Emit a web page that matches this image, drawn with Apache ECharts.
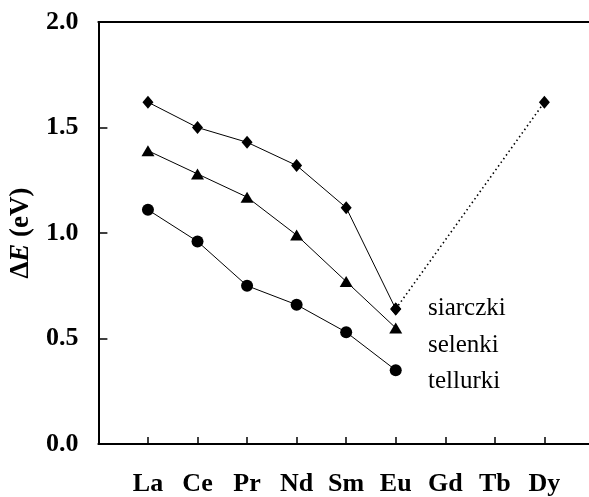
<!DOCTYPE html>
<html><head><meta charset="utf-8">
<script src="https://cdn.jsdelivr.net/npm/echarts@6/dist/echarts.min.js"></script>
<style>html,body{margin:0;padding:0;background:#fff}#c{width:589px;height:497px}</style>
</head><body><div id="c"></div>
<script>
const categories = ['La','Ce','Pr','Nd','Sm','Eu','Gd','Tb','Dy'];
const siarczki = [1.62, 1.50, 1.43, 1.32, 1.12, 0.64];
const selenki  = [1.39, 1.28, 1.17, 0.99, 0.77, 0.55];
const tellurki = [1.11, 0.96, 0.75, 0.66, 0.53, 0.35];
const dyLink = [[5, 0.64], [8, 1.62]];
const yTicks = ['0.0','0.5','1.0','1.5','2.0'];
const seriesNames = ['siarczki','selenki','tellurki'];

const FONT = 'Liberation Serif';
const pairs = arr => arr.map((v,i)=>[i,v]);
const chart = echarts.init(document.getElementById('c'), null, {renderer:'canvas'});
const lineBase = {type:'line', color:'#000', lineStyle:{color:'#000', width:1}, itemStyle:{color:'#000'}, animation:false, z:3};
chart.setOption({
  backgroundColor:'#fff',
  grid:{left:97, right:0, top:22, bottom:51, containLabel:false},
  xAxis:[{
    type:'value', min:-1, max:8.9, interval:1,
    axisLine:{onZero:false, lineStyle:{color:'#000', width:2}},
    axisTick:{inside:true, length:7, lineStyle:{color:'#000', width:1.5}},
    splitLine:{show:false},
    axisLabel:{margin:27, fontFamily:FONT, fontWeight:'bold', fontSize:26, color:'#000',
      showMaxLabel:false,
      formatter:v=> (v>=0 && v<categories.length && Number.isInteger(v)) ? categories[v] : ''}
  },{
    type:'value', position:'top', min:-1, max:8.9,
    axisLine:{show:true, onZero:false, lineStyle:{color:'#000', width:2}},
    axisTick:{show:false}, axisLabel:{show:false}, splitLine:{show:false}
  }],
  yAxis:{
    type:'value', min:0, max:2, interval:0.5,
    axisLine:{show:true, onZero:false, lineStyle:{color:'#000', width:2}},
    axisTick:{show:true, inside:true, length:9, lineStyle:{color:'#000', width:1.5}},
    splitLine:{show:false},
    axisLabel:{margin:20, fontFamily:FONT, fontWeight:'bold', fontSize:26, color:'#000',
      formatter:v=> yTicks[Math.round(v*2)]},
    name:'{a|Δ}{b|E}{a| (eV)}', nameLocation:'middle', nameGap:62, nameRotate:90,
    nameTextStyle:{rich:{
      a:{fontFamily:FONT, fontWeight:'bold', fontSize:27, color:'#000'},
      b:{fontFamily:FONT, fontWeight:'bold', fontStyle:'italic', fontSize:27, color:'#000'}
    }}
  },
  series:[
    Object.assign({}, lineBase, {name:seriesNames[0], data:pairs(siarczki), symbol:'diamond', symbolSize:[11,13], showAllSymbol:true}),
    Object.assign({}, lineBase, {name:seriesNames[1], data:pairs(selenki), symbol:'triangle', symbolSize:[13,11]}),
    Object.assign({}, lineBase, {name:seriesNames[2], data:pairs(tellurki), symbol:'circle', symbolSize:12}),
    Object.assign({}, lineBase, {name:'link', data:dyLink, symbol:'diamond', symbolSize:[11,13], lineStyle:{color:'#000', width:1.6, type:[1.5,3]}, z:2})
  ],
  graphic:[
    {type:'text', left:428, top:296, style:{text:seriesNames[0], font:'25px "Liberation Serif"', fill:'#000'}},
    {type:'text', left:428, top:333, style:{text:seriesNames[1], font:'25px "Liberation Serif"', fill:'#000'}},
    {type:'text', left:428, top:369, style:{text:seriesNames[2], font:'25px "Liberation Serif"', fill:'#000'}}
  ]
});
</script></body></html>
